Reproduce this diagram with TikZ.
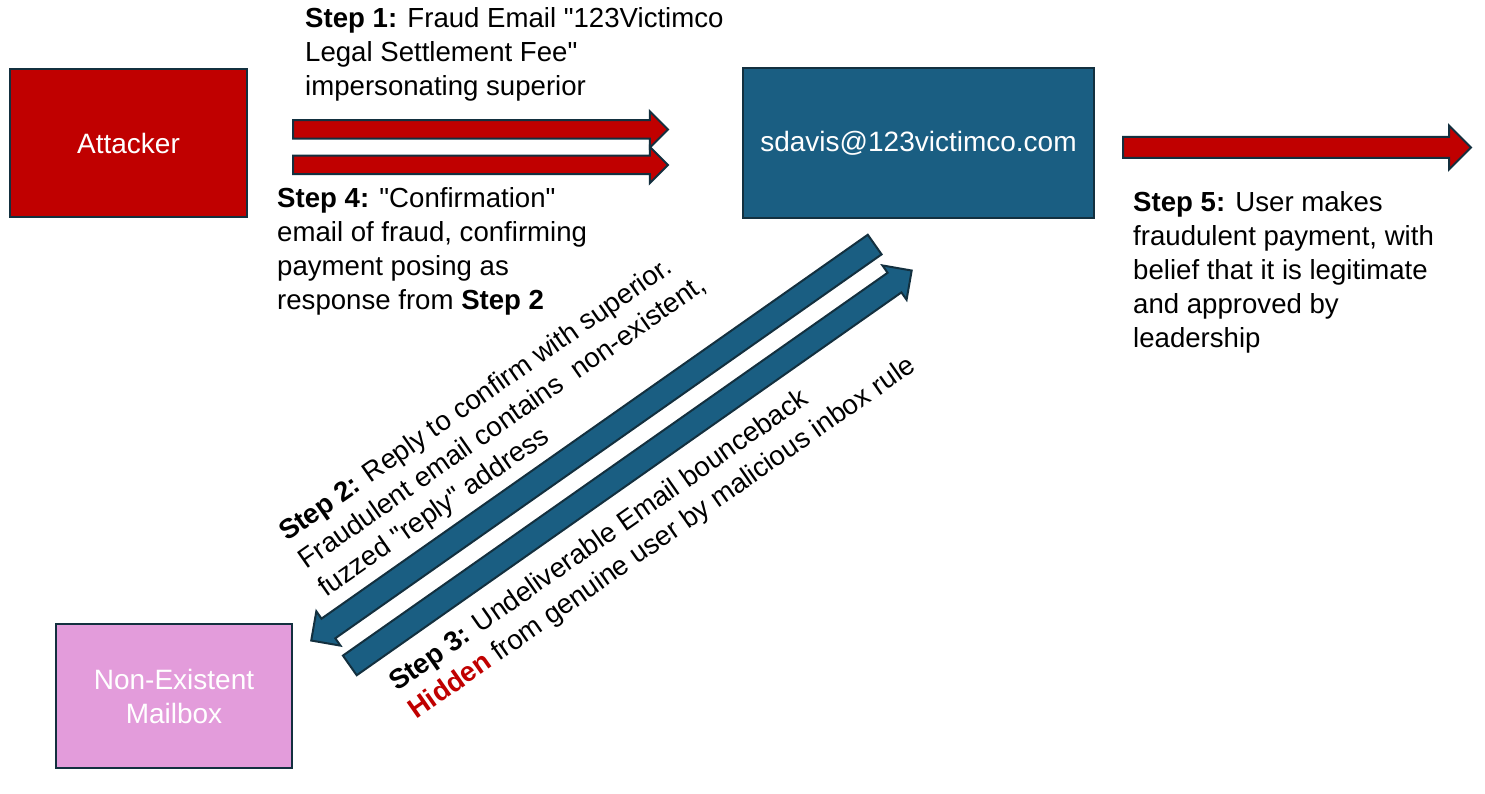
\documentclass[tikz,border=0pt]{standalone}
\usepackage{fontspec}
\setmainfont{Liberation Sans}
\usepackage{tikz}
\usetikzlibrary{calc,positioning,shapes.arrows}
\definecolor{Ink}{HTML}{13303F}
\definecolor{Red}{HTML}{C00000}
\definecolor{Blue}{HTML}{1A5E82}
\definecolor{Pink}{HTML}{E39CDB}
\tikzset{party/.style={draw=Ink,line width=2pt,outer sep=0pt,minimum width=237pt,minimum height=148pt,text=white,align=center,font=\fontsize{28}{34}\selectfont},redflow/.style={single arrow,draw=Ink,fill=Red,line width=2pt,inner xsep=0pt,inner ysep=8.25pt,single arrow head extend=9pt},blueflow/.style={single arrow,draw=Ink,fill=Blue,line width=2pt,inner xsep=0pt,inner ysep=11pt,single arrow head extend=9pt},note/.style={align=left,inner sep=0pt,font=\fontsize{27.6}{34}\selectfont}}
\newcommand\fatarrow[4]{\path let \p1=(#3),\p2=(#4),\n1={atan2(\y2-\y1,\x2-\x1)},\n2={veclen(\x2-\x1,\y2-\y1)} in node[#1,rotate=\n1,minimum height=\n2,anchor=tail] (#2) at (\p1) {};}
\newcommand\dq{\textquotedbl{}}

\begin{document}
\begin{tikzpicture}[x=1pt,y=1pt]
      \useasboundingbox (0,0) rectangle (1485,793);
      \node[party,fill=Red](attacker) at (128.5,650){Attacker};
      \node[party,fill=Blue,minimum width=351pt,minimum height=150pt,right=496pt of attacker](victim){sdavis@123victimco.com};
      \node[party,fill=Pink,minimum width=236pt,minimum height=144pt](mailbox) at (174,97){Non-Existent\\Mailbox};
      \coordinate (m1a) at ($(attacker.east)+(45,13.5)$);\coordinate (m1b) at ($(victim.west)+(-76,13.5)$);
      \coordinate (m4a) at ($(attacker.east)+(45,-22)$);\coordinate (m4b) at ($(victim.west)+(-76,-22)$);
      \coordinate (payA) at ($(victim.east)+(28,-4.5)$);\coordinate (payB) at (1470,645.5);
      \coordinate (replyA) at ($(victim.south)+(-43,-26)$);\coordinate (replyB) at ($(mailbox.east)+(20,56)$);
      \coordinate (bounceA) at ($(mailbox.east)+(57,30)$);\coordinate (bounceB) at ($(victim.south)+(-7.5,-53)$);
      \fatarrow{redflow}{fraud}{m1a}{m1b}
      \fatarrow{redflow}{confirm}{m4a}{m4b}
      \fatarrow{redflow,inner ysep=9.5pt,single arrow head extend=11.5pt}{pay}{payA}{payB}
      \fatarrow{blueflow}{reply}{replyA}{replyB}
      \fatarrow{blueflow}{bounce}{bounceA}{bounceB}
      % base anchor sits on the last line
      \node[note,anchor=base west](s1) at (305,697){\textbf{Step 1:} Fraud Email \dq123Victimco\\Legal Settlement Fee\dq\\impersonating superior};
      \node[note,anchor=base west](s4) at (277,483){\textbf{Step 4:} \dq Confirmation\dq\\email of fraud, confirming\\payment posing as\\response from \textbf{Step 2}};
      \node[note,anchor=base west](s5) at (1133,445){\textbf{Step 5:} User makes\\fraudulent payment, with\\belief that it is legitimate\\and approved by\\leadership};
      \node[note,rotate=35,anchor=base west](s2) at ($(287,251)+(-55:68)$){\textbf{Step 2:} Reply to confirm with superior.\\Fraudulent email contains\ \ non-existent,\\fuzzed \dq reply\dq\ address};
      \node[note,rotate=35,anchor=base west](s3) at ($(397,101)+(-55:34)$){\textbf{Step 3:} Undeliverable Email bounceback\\\textcolor{Red}{\textbf{Hidden}} from genuine user by malicious inbox rule};
    \end{tikzpicture}
\end{document}
